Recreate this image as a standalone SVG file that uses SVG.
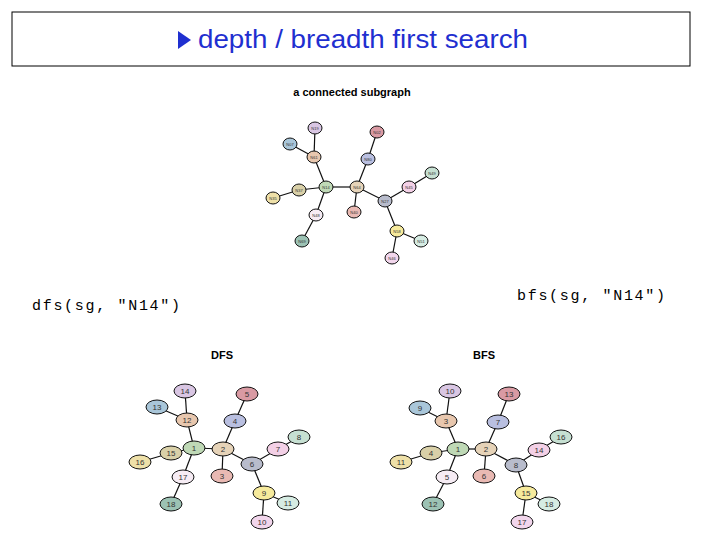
<svg xmlns="http://www.w3.org/2000/svg" width="720" height="540" viewBox="0 0 720 540">
<style>
text{font-family:"Liberation Sans",Arial,sans-serif}
.e line{stroke:#111;stroke-width:1.2}
.n ellipse{stroke:#111;stroke-width:1}
.s text{font-size:4px;fill:#333;text-anchor:middle}
.b text{font-size:8px;fill:#333;text-anchor:middle}
.code{font-family:"Liberation Mono","Courier New",monospace;font-size:15px;fill:#000}
.h{font-weight:bold;font-size:11px;text-anchor:middle;fill:#000}
.A{fill:#d9c6e3}.B{fill:#a9c6d9}.C{fill:#e8c7ae}.D{fill:#bfd9b6}.E{fill:#d9d0a8}.F{fill:#eee0a8}.G{fill:#f6ecf4}.H{fill:#9cc2b4}.I{fill:#d99aa3}.J{fill:#b9bfe0}.K{fill:#e6d3b8}.L{fill:#e9b9b3}.M{fill:#b8bccc}.N{fill:#f3d0e6}.O{fill:#c6e0d2}.P{fill:#f6ea9c}.Q{fill:#d6ece3}.R{fill:#f2d6ec}
</style>
<rect x="12" y="12" width="678" height="54" fill="#fff" stroke="#000" stroke-width="1"/>
<polygon points="178,31 178,49 191,40" fill="#1f2fd0"/>
<text x="198" y="48" font-size="25" fill="#1f2fd0" textLength="330" lengthAdjust="spacingAndGlyphs">depth / breadth first search</text>
<text class="code" x="32" y="310" textLength="148">dfs(sg, "N14")</text>
<text class="code" x="517" y="300" textLength="148">bfs(sg, "N14")</text>
<text class="h" x="352" y="96">a connected subgraph</text>
<text class="h" x="222" y="359">DFS</text>
<text class="h" x="484" y="359">BFS</text>
<g id="connectors" class="e">
<line x1="315" y1="128" x2="314" y2="157"/><line x1="290" y1="144" x2="314" y2="157"/><line x1="314" y1="157" x2="326" y2="187"/><line x1="299" y1="190" x2="326" y2="187"/><line x1="273" y1="198" x2="299" y2="190"/><line x1="326" y1="187" x2="316" y2="215"/><line x1="316" y1="215" x2="302" y2="241"/><line x1="326" y1="187" x2="357" y2="187"/><line x1="377" y1="132" x2="368" y2="159"/><line x1="368" y1="159" x2="357" y2="187"/><line x1="357" y1="187" x2="354" y2="212"/><line x1="357" y1="187" x2="385" y2="201"/><line x1="385" y1="201" x2="409" y2="187"/><line x1="409" y1="187" x2="432" y2="173"/><line x1="385" y1="201" x2="397" y2="231"/><line x1="397" y1="231" x2="421" y2="241"/><line x1="397" y1="231" x2="392" y2="258"/>
<line x1="185" y1="391" x2="187" y2="420"/><line x1="157" y1="407" x2="187" y2="420"/><line x1="187" y1="420" x2="194" y2="448"/><line x1="171" y1="453" x2="194" y2="448"/><line x1="140" y1="462" x2="171" y2="453"/><line x1="194" y1="448" x2="183" y2="477"/><line x1="183" y1="477" x2="171" y2="504"/><line x1="194" y1="448" x2="223" y2="449"/><line x1="247" y1="394" x2="235" y2="421"/><line x1="235" y1="421" x2="223" y2="449"/><line x1="223" y1="449" x2="222" y2="476"/><line x1="223" y1="449" x2="252" y2="464"/><line x1="252" y1="464" x2="278" y2="449"/><line x1="278" y1="449" x2="299" y2="437"/><line x1="252" y1="464" x2="264" y2="493"/><line x1="264" y1="493" x2="288" y2="503"/><line x1="264" y1="493" x2="262" y2="522"/>
<line x1="450" y1="391" x2="446" y2="421"/><line x1="420" y1="408" x2="446" y2="421"/><line x1="446" y1="421" x2="458" y2="449"/><line x1="431" y1="453" x2="458" y2="449"/><line x1="401" y1="462" x2="431" y2="453"/><line x1="458" y1="449" x2="447" y2="477"/><line x1="447" y1="477" x2="433" y2="504"/><line x1="458" y1="449" x2="486" y2="449"/><line x1="509" y1="394" x2="498" y2="422"/><line x1="498" y1="422" x2="486" y2="449"/><line x1="486" y1="449" x2="484" y2="476"/><line x1="486" y1="449" x2="516" y2="465"/><line x1="516" y1="465" x2="539" y2="450"/><line x1="539" y1="450" x2="561" y2="437"/><line x1="516" y1="465" x2="526" y2="493"/><line x1="526" y1="493" x2="549" y2="504"/><line x1="526" y1="493" x2="522" y2="522"/>
</g>
<g id="sub" class="n s">
<g id="s-A"><ellipse class="A" cx="315" cy="128" rx="7" ry="6"/><text x="315" y="129.5">N19</text></g>
<g id="s-B"><ellipse class="B" cx="290" cy="144" rx="7" ry="6"/><text x="290" y="145.5">N07</text></g>
<g id="s-C"><ellipse class="C" cx="314" cy="157" rx="7" ry="6"/><text x="314" y="158.5">N61</text></g>
<g id="s-D"><ellipse class="D" cx="326" cy="187" rx="7" ry="6"/><text x="326" y="188.5">N14</text></g>
<g id="s-E"><ellipse class="E" cx="299" cy="190" rx="7" ry="6"/><text x="299" y="191.5">N37</text></g>
<g id="s-F"><ellipse class="F" cx="273" cy="198" rx="7" ry="6"/><text x="273" y="199.5">N35</text></g>
<g id="s-G"><ellipse class="G" cx="316" cy="215" rx="7" ry="6"/><text x="316" y="216.5">N48</text></g>
<g id="s-H"><ellipse class="H" cx="302" cy="241" rx="7" ry="6"/><text x="302" y="242.5">N69</text></g>
<g id="s-I"><ellipse class="I" cx="377" cy="132" rx="7" ry="6"/><text x="377" y="133.5">N02</text></g>
<g id="s-J"><ellipse class="J" cx="368" cy="159" rx="7" ry="6"/><text x="368" y="160.5">N80</text></g>
<g id="s-K"><ellipse class="K" cx="357" cy="187" rx="7" ry="6"/><text x="357" y="188.5">N64</text></g>
<g id="s-L"><ellipse class="L" cx="354" cy="212" rx="7" ry="6"/><text x="354" y="213.5">N40</text></g>
<g id="s-M"><ellipse class="M" cx="385" cy="201" rx="7" ry="6"/><text x="385" y="202.5">N27</text></g>
<g id="s-N"><ellipse class="N" cx="409" cy="187" rx="7" ry="6"/><text x="409" y="188.5">N45</text></g>
<g id="s-O"><ellipse class="O" cx="432" cy="173" rx="7" ry="6"/><text x="432" y="174.5">N49</text></g>
<g id="s-P"><ellipse class="P" cx="397" cy="231" rx="7" ry="6"/><text x="397" y="232.5">N58</text></g>
<g id="s-Q"><ellipse class="Q" cx="421" cy="241" rx="7" ry="6"/><text x="421" y="242.5">N51</text></g>
<g id="s-R"><ellipse class="R" cx="392" cy="258" rx="7" ry="6"/><text x="392" y="259.5">N46</text></g>
</g>
<g id="dfs" class="n b">
<g id="d14"><ellipse class="A" cx="185" cy="391" rx="11" ry="7"/><text x="185" y="394">14</text></g>
<g id="d13"><ellipse class="B" cx="157" cy="407" rx="11" ry="7"/><text x="157" y="410">13</text></g>
<g id="d12"><ellipse class="C" cx="187" cy="420" rx="11" ry="7"/><text x="187" y="423">12</text></g>
<g id="d1"><ellipse class="D" cx="194" cy="448" rx="11" ry="7"/><text x="194" y="451">1</text></g>
<g id="d15"><ellipse class="E" cx="171" cy="453" rx="11" ry="7"/><text x="171" y="456">15</text></g>
<g id="d16"><ellipse class="F" cx="140" cy="462" rx="11" ry="7"/><text x="140" y="465">16</text></g>
<g id="d17"><ellipse class="G" cx="183" cy="477" rx="11" ry="7"/><text x="183" y="480">17</text></g>
<g id="d18"><ellipse class="H" cx="171" cy="504" rx="11" ry="7"/><text x="171" y="507">18</text></g>
<g id="d5"><ellipse class="I" cx="247" cy="394" rx="11" ry="7"/><text x="247" y="397">5</text></g>
<g id="d4"><ellipse class="J" cx="235" cy="421" rx="11" ry="7"/><text x="235" y="424">4</text></g>
<g id="d2"><ellipse class="K" cx="223" cy="449" rx="11" ry="7"/><text x="223" y="452">2</text></g>
<g id="d3"><ellipse class="L" cx="222" cy="476" rx="11" ry="7"/><text x="222" y="479">3</text></g>
<g id="d6"><ellipse class="M" cx="252" cy="464" rx="11" ry="7"/><text x="252" y="467">6</text></g>
<g id="d7"><ellipse class="N" cx="278" cy="449" rx="11" ry="7"/><text x="278" y="452">7</text></g>
<g id="d8"><ellipse class="O" cx="299" cy="437" rx="11" ry="7"/><text x="299" y="440">8</text></g>
<g id="d9"><ellipse class="P" cx="264" cy="493" rx="11" ry="7"/><text x="264" y="496">9</text></g>
<g id="d11"><ellipse class="Q" cx="288" cy="503" rx="11" ry="7"/><text x="288" y="506">11</text></g>
<g id="d10"><ellipse class="R" cx="262" cy="522" rx="11" ry="7"/><text x="262" y="525">10</text></g>
</g>
<g id="bfs" class="n b">
<g id="b10"><ellipse class="A" cx="450" cy="391" rx="11" ry="7"/><text x="450" y="394">10</text></g>
<g id="b9"><ellipse class="B" cx="420" cy="408" rx="11" ry="7"/><text x="420" y="411">9</text></g>
<g id="b3"><ellipse class="C" cx="446" cy="421" rx="11" ry="7"/><text x="446" y="424">3</text></g>
<g id="b1"><ellipse class="D" cx="458" cy="449" rx="11" ry="7"/><text x="458" y="452">1</text></g>
<g id="b4"><ellipse class="E" cx="431" cy="453" rx="11" ry="7"/><text x="431" y="456">4</text></g>
<g id="b11"><ellipse class="F" cx="401" cy="462" rx="11" ry="7"/><text x="401" y="465">11</text></g>
<g id="b5"><ellipse class="G" cx="447" cy="477" rx="11" ry="7"/><text x="447" y="480">5</text></g>
<g id="b12"><ellipse class="H" cx="433" cy="504" rx="11" ry="7"/><text x="433" y="507">12</text></g>
<g id="b13"><ellipse class="I" cx="509" cy="394" rx="11" ry="7"/><text x="509" y="397">13</text></g>
<g id="b7"><ellipse class="J" cx="498" cy="422" rx="11" ry="7"/><text x="498" y="425">7</text></g>
<g id="b2"><ellipse class="K" cx="486" cy="449" rx="11" ry="7"/><text x="486" y="452">2</text></g>
<g id="b6"><ellipse class="L" cx="484" cy="476" rx="11" ry="7"/><text x="484" y="479">6</text></g>
<g id="b8"><ellipse class="M" cx="516" cy="465" rx="11" ry="7"/><text x="516" y="468">8</text></g>
<g id="b14"><ellipse class="N" cx="539" cy="450" rx="11" ry="7"/><text x="539" y="453">14</text></g>
<g id="b16"><ellipse class="O" cx="561" cy="437" rx="11" ry="7"/><text x="561" y="440">16</text></g>
<g id="b15"><ellipse class="P" cx="526" cy="493" rx="11" ry="7"/><text x="526" y="496">15</text></g>
<g id="b18"><ellipse class="Q" cx="549" cy="504" rx="11" ry="7"/><text x="549" y="507">18</text></g>
<g id="b17"><ellipse class="R" cx="522" cy="522" rx="11" ry="7"/><text x="522" y="525">17</text></g>
</g>
</svg>
